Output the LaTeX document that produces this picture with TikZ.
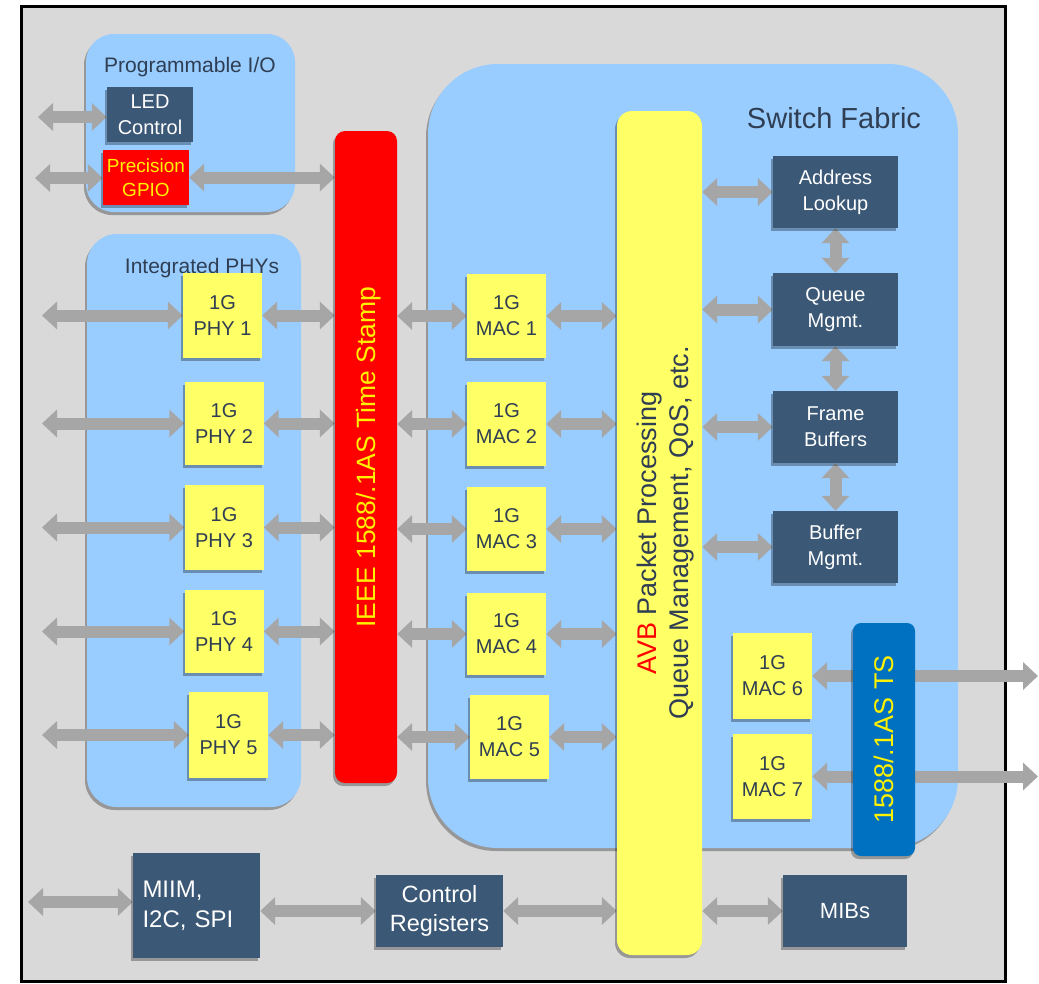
\documentclass[tikz,border=0pt]{standalone}
\usepackage{fontspec}
\setmainfont{Liberation Sans}
\usetikzlibrary{arrows.meta,shadows}

\definecolor{bggray}{RGB}{217,217,217}
\definecolor{panelblue}{RGB}{153,204,255}
\definecolor{slate}{RGB}{59,88,118}
\definecolor{txtslate}{RGB}{47,62,82}
\definecolor{boxyellow}{RGB}{255,255,102}
\definecolor{arrowgray}{RGB}{166,166,166}
\definecolor{tsblue}{RGB}{0,112,192}

\pgfdeclarelayer{back}
\pgfdeclarelayer{links}
\pgfsetlayers{back,links,main}

\tikzset{
  shade/.style={drop shadow={shadow xshift=-2pt,shadow yshift=-3pt,opacity=0.3,fill=black}},
  box/.style={rectangle, inner sep=3pt, align=center, shade, font=\fontsize{20}{26}\selectfont},
  darkbox/.style={box, fill=slate, text=white},
  ybox/.style={box, fill=boxyellow, text=txtslate, minimum width=79pt},
  bar/.style={rectangle, shade, inner sep=0pt},
  link/.style={draw=arrowgray, line width=12pt,
    arrows={Triangle[length=15pt,width=27pt]-Triangle[length=15pt,width=27pt]}},
  panel/.style={fill=panelblue, shade},
  title/.style={text=txtslate, inner sep=0pt}
}

\begin{document}
\begin{tikzpicture}[x=1pt,y=-1pt]
    \useasboundingbox (0,0) rectangle (1039,983);

    %% chip outline and panels
    \begin{pgfonlayer}{back}
    \draw[line width=3pt, fill=bggray] (21,6) rectangle (1005,981);
    \path[panel, rounded corners=28pt] (86,34) rectangle (295,212);
    \path[panel, rounded corners=30pt] (87,234) rectangle (301,807);
    \path[panel, rounded corners=70pt] (428,64) rectangle (958,848);
    \end{pgfonlayer}

    \node[title, font=\fontsize{21}{24}\selectfont] (piotitle) at (190,67) {Programmable I/O};
    \node[title, font=\fontsize{21}{24}\selectfont] (phytitle) at (202,268) {Integrated PHYs};
    \node[title, font=\fontsize{29}{33}\selectfont] (swtitle) at (834,118) {Switch Fabric};

    %% programmable I/O
    \node[darkbox, minimum width=86pt, minimum height=55pt] (led) at (150,114.5) {LED\\Control};
    \node[box, fill=red, text=yellow, minimum width=86pt, minimum height=55pt,
          font=\fontsize{19}{24}\selectfont] (gpio) at (146,177.5) {Precision\\GPIO};

    %% time stamp bars
    \node[bar, fill=red, rounded corners=10pt, minimum width=62pt, minimum height=652pt,
          label={[xshift=3pt, rotate=90, text=yellow, font=\fontsize{26.5}{30}\selectfont]center:IEEE 1588/.1AS Time Stamp}]
          (tsbar) at (366,457) {};
    \node[bar, fill=boxyellow, rounded corners=15pt, minimum width=85pt, minimum height=844pt,
          label={[xshift=6pt, rotate=90, text=txtslate, align=center, font=\fontsize{27}{32}\selectfont]center:{\textcolor{red}{AVB} Packet Processing\\Queue Management, QoS, etc.}}]
          (avb) at (659.5,533) {};
    \node[bar, fill=tsblue, rounded corners=8pt, minimum width=62pt, minimum height=233pt,
          label={[rotate=90, text=yellow, font=\fontsize{27}{31}\selectfont]center:1588/.1AS TS}]
          (ts) at (884,739.5) {};

    %% PHYs and MACs
    \node[ybox, minimum height=85pt] (phy1) at (222.5,315.5) {1G\\PHY 1};
    \node[ybox, minimum height=83pt] (phy2) at (224,423.5) {1G\\PHY 2};
    \node[ybox, minimum height=85pt] (phy3) at (224,527.5) {1G\\PHY 3};
    \node[ybox, minimum height=83pt] (phy4) at (224,631.5) {1G\\PHY 4};
    \node[ybox, minimum height=86pt] (phy5) at (228.5,735) {1G\\PHY 5};

    \node[ybox, minimum height=84pt] (mac1) at (506.5,316) {1G\\MAC 1};
    \node[ybox, minimum height=84pt] (mac2) at (506.5,424) {1G\\MAC 2};
    \node[ybox, minimum height=84pt] (mac3) at (506.5,529) {1G\\MAC 3};
    \node[ybox, minimum height=82pt] (mac4) at (506.5,634) {1G\\MAC 4};
    \node[ybox, minimum height=84pt] (mac5) at (509.5,737) {1G\\MAC 5};
    \node[ybox, minimum height=86pt] (mac6) at (772.5,676) {1G\\MAC 6};
    \node[ybox, minimum height=85pt] (mac7) at (772.5,776.5) {1G\\MAC 7};

    %% switch fabric blocks
    \node[darkbox, minimum width=125pt, minimum height=72pt] (addr) at (835.5,192) {Address\\Lookup};
    \node[darkbox, minimum width=125pt, minimum height=73pt] (queue) at (835.5,309.5) {Queue\\Mgmt.};
    \node[darkbox, minimum width=125pt, minimum height=72pt] (frame) at (835.5,427) {Frame\\Buffers};
    \node[darkbox, minimum width=125pt, minimum height=72pt] (bufm) at (835.5,547) {Buffer\\Mgmt.};

    %% management blocks
    \node[darkbox, minimum width=127pt, minimum height=105pt, text width=108pt, align=left,
          font=\fontsize{24}{30}\selectfont] (miim) at (196.5,905.5) {MIIM,\\I2C, SPI};
    \node[darkbox, minimum width=127pt, minimum height=72pt,
          font=\fontsize{23.5}{29}\selectfont] (ctrl) at (439.5,911) {Control\\Registers};
    \node[darkbox, minimum width=124pt, minimum height=72pt,
          font=\fontsize{22}{26}\selectfont] (mibs) at (845,911) {MIBs};

    %% outside ends
    \coordinate (ledin) at (38,117);
    \coordinate (gpioin) at (35,178);
    \coordinate (miimin) at (28,902);
    \coordinate (mac6out) at (1038,676);
    \coordinate (mac7out) at (1038,776.5);

    %% connectors
    \begin{pgfonlayer}{links}
    \draw[link] (ledin) -- (ledin -| led.west);
    \draw[link] (gpioin) -- (gpioin -| gpio.west);
    \draw[link] (gpio.east) -- (gpio.east -| tsbar.west);
    \foreach \n in {1,...,5} {
      \draw[link] (42,0 |- phy\n.west) -- (phy\n.west);
      \draw[link] (phy\n.east) -- (phy\n.east -| tsbar.west);
      \draw[link] (tsbar.east |- mac\n.west) -- (mac\n.west);
      \draw[link] (mac\n.east) -- (mac\n.east -| avb.west);
    }
    \foreach \b in {addr,queue,frame,bufm}
      \draw[link] (avb.east |- \b.west) -- (\b.west);
    \draw[link] (addr.south) -- (queue.north);
    \draw[link] (queue.south) -- (frame.north);
    \draw[link] (frame.south) -- (bufm.north);
    \draw[link] (mac6.east) -- (mac6out);
    \draw[link] (mac7.east) -- (mac7out);
    \draw[link] (miimin) -- (miimin -| miim.west);
    \draw[link] (miim.east |- ctrl.west) -- (ctrl.west);
    \draw[link] (ctrl.east) -- (ctrl.east -| avb.west);
    \draw[link] (avb.east |- mibs.west) -- (mibs.west);
    \end{pgfonlayer}
\end{tikzpicture}
\end{document}
